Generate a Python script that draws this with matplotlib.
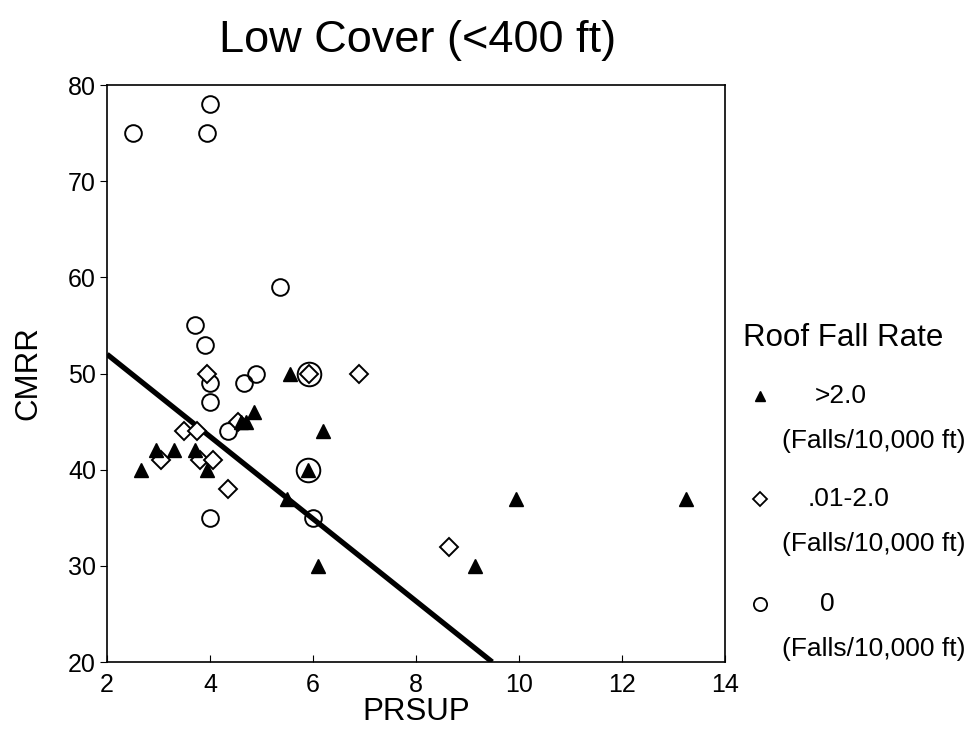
import matplotlib
matplotlib.use("Agg")
from matplotlib import pyplot as plt

plt.rcParams['font.family'] = ['Liberation Sans', 'DejaVu Sans']

# Roof fall rate > 2.0 (triangles)
high_x = [2.65, 2.95, 3.3, 3.7, 3.95, 4.6, 4.7, 4.85, 5.55, 5.9, 5.5, 6.2, 6.1, 9.15, 9.95, 13.25]
high_y = [40, 42, 42, 42, 40, 45, 45, 46, 50, 40, 37, 44, 30, 30, 37, 37]

# Roof fall rate .01-2.0 (diamonds)
mid_x = [3.95, 5.92, 3.5, 3.75, 3.05, 3.8, 4.05, 4.35, 4.55, 6.9, 8.65]
mid_y = [50, 50, 44, 44, 41, 41, 41, 38, 45, 50, 32]

# Roof fall rate 0 (circles)
zero_x = [2.5, 4.0, 3.95, 5.35, 3.7, 3.9, 4.0, 4.0, 4.65, 4.9, 4.35, 4.0, 6.0]
zero_y = [75, 78, 75, 59, 55, 53, 49, 47, 49, 50, 44, 35, 35]

# points shared with the other groups (drawn with a larger ring)
ring_x = [5.93, 5.9]
ring_y = [50, 40]

# regression line end points
line_x = [2, 9.48]
line_y = [52, 20]

fig = plt.figure(figsize=(9.67, 7.40), dpi=100)
ax = fig.add_axes([0.1107, 0.1054, 0.639, 0.7797])

ax.plot(line_x, line_y, color="black", linewidth=3.8, solid_capstyle="butt", zorder=2)
ax.plot(zero_x, zero_y, linestyle="none", marker="o", markersize=12,
        markerfacecolor="none", markeredgecolor="black", markeredgewidth=1.4, zorder=3)
ax.plot(ring_x, ring_y, linestyle="none", marker="o", markersize=17,
        markerfacecolor="none", markeredgecolor="black", markeredgewidth=1.4, zorder=3)
ax.plot(mid_x, mid_y, linestyle="none", marker="D", markersize=9,
        markerfacecolor="white", markeredgecolor="black", markeredgewidth=1.4, zorder=4)
ax.plot(high_x, high_y, linestyle="none", marker="^", markersize=9.5,
        color="black", zorder=5)

ax.set_xlim(2, 14)
ax.set_ylim(20, 80)
ax.set_xticks([2, 4, 6, 8, 10, 12, 14])
ax.set_yticks([20, 30, 40, 50, 60, 70, 80])
ax.tick_params(axis="x", direction="in", length=5, labelsize=18, pad=8)
ax.tick_params(axis="y", direction="out", length=5, labelsize=18, pad=3)
for s in ax.spines.values():
    s.set_linewidth(1.2)

ax.set_xlabel("PRSUP", fontsize=22.5, labelpad=0)
ax.set_ylabel("CMRR", fontsize=22.5, labelpad=18)
fig.text(0.432, 0.945, "Low Cover (<400 ft)", fontsize=32.5, ha="center", va="center")

# legend, drawn by hand
fig.text(0.768, 0.543, "Roof Fall Rate", fontsize=22.5, ha="left", va="center")
legend_items = [
    (">2.0", "^", 0.465, 0.843, dict(color="black", markersize=7.5)),
    (".01-2.0", "D", 0.326, 0.835, dict(markerfacecolor="white", markeredgecolor="black",
                                         markeredgewidth=1.3, markersize=7)),
    ("0", "o", 0.184, 0.848, dict(markerfacecolor="none", markeredgecolor="black",
                                  markeredgewidth=1.3, markersize=9.5)),
]
for label, mk, yy, xt, style in legend_items:
    ax.plot([0.786], [yy], marker=mk, linestyle="none", transform=fig.transFigure,
            clip_on=False, **style)
    fig.text(xt, yy, label, fontsize=19, ha="left", va="center")
    fig.text(0.809, yy - 0.061, "(Falls/10,000 ft)", fontsize=19, ha="left", va="center")

fig.savefig("out.png", dpi=100)
